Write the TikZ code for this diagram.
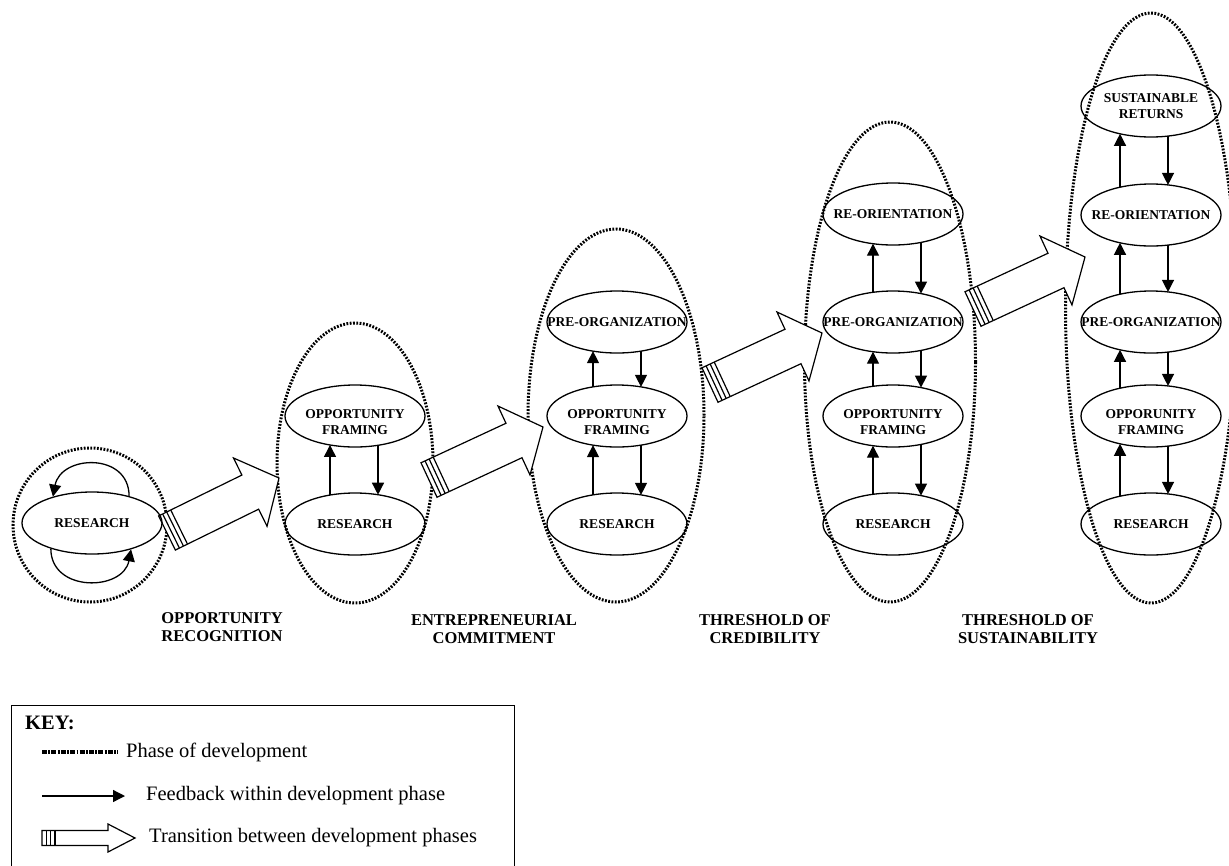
\documentclass[tikz,border=0pt]{standalone}
\usepackage{fontspec}
\setmainfont{Liberation Serif}
\usetikzlibrary{shapes.geometric,arrows.meta,calc}
\tikzset{
  phase/.style={ellipse, draw, line width=3pt, dash pattern=on 1.8pt off 1.5pt, inner sep=0pt},
  stage/.style={ellipse, draw, line width=1.3pt, minimum width=140pt, minimum height=62pt, inner sep=0pt},
  stagetext/.style={font=\fontsize{13.5}{16}\selectfont\bfseries, align=center, inner sep=0pt},
  fb/.style={line width=1.3pt, -{Triangle[length=12pt,width=12pt]}},
  tarrow/.style={draw, fill=white, line width=1.2pt, line join=miter},
  milestone/.style={font=\fontsize{16.5}{18}\selectfont\bfseries, align=center, inner sep=0pt},
  keytext/.style={font=\fontsize{20.5}{24}\selectfont, anchor=west, inner sep=0pt},
  phaseline/.style={line width=3.5pt, dash pattern=on 5pt off 1.3pt on 1.8pt off 1.3pt},
}
% transition arrow: #1 tail, #2 tip, #3 shaft half width, #4 head half width, #5 head length, #6 stripe spacing
\newcommand\transarrow[6]{%
  \path let \p1=($(#2)-(#1)$) in \pgfextra{%
    \pgfmathsetmacro\tmpAng{atan2(\y1,\x1)}\global\let\tAng\tmpAng
    \pgfmathsetmacro\tmpLen{veclen(\x1,\y1)}\global\let\tLen\tmpLen};
  \begin{scope}[shift={(#1)}, rotate=\tAng]
    \pgfmathsetmacro\tB{\tLen-#5}
    \draw[tarrow] (0,-#3) -- (\tB,-#3) -- (\tB,-#4) -- (\tLen,0) -- (\tB,#4) -- (\tB,#3) -- (0,#3) -- cycle;
    \foreach \s in {1,2,3} \draw[tarrow] (\s*#6,-#3) -- (\s*#6,#3);
  \end{scope}}
% feedback pair: #1 lower node, #2 upper node, #3 x offset of the up arrow
\newcommand\fbpair[3]{%
  \pgfmathsetmacro\ya{31*sqrt(1-((#3)/70)^2)}%
  \pgfmathsetmacro\yb{31*sqrt(1-((#3+48)/70)^2)}%
  \draw[fb] ($(#1.center)+(#3,-\ya)$) -- ($(#2.center)+(#3,\ya)$);
  \draw[fb] ($(#2.center)+(#3+48,\yb)$) -- ($(#1.center)+(#3+48,-\yb)$);}
\begin{document}
\begin{tikzpicture}[x=1pt,y=-1pt]
\useasboundingbox (0,0) rectangle (1229,865);

% phases of development
\node[phase, minimum width=154pt, minimum height=154pt] (p1) at (90,525) {};
\node[phase, minimum width=156pt, minimum height=280pt] (p2) at (355,463) {};
\node[phase, minimum width=176pt, minimum height=373pt] (p3) at (616,415.5) {};
\node[phase, minimum width=171pt, minimum height=480pt] (p4) at (890,362) {};
\node[phase, minimum width=171pt, minimum height=590pt] (p5) at (1151,308) {};

% transitions between phases
\coordinate (t1s) at ($(p1.center)+(77,8)$);
\coordinate (t1e) at ($(p2.center)+(-76,15)$);
\coordinate (t2s) at ($(p2.center)+(74,17)$);
\coordinate (t2e) at ($(p3.center)+(-73,11.5)$);
\coordinate (t3s) at ($(p3.center)+(94,-30.5)$);
\coordinate (t3e) at ($(p4.center)+(-68,-29)$);
\coordinate (t4s) at ($(p4.center)+(83,-53)$);
\coordinate (t4e) at ($(p5.center)+(-66,-51)$);
\transarrow{t1s}{t1e}{19}{38}{32}{4.5}
\transarrow{t2s}{t2e}{19}{38}{32}{4.5}
\transarrow{t3s}{t3e}{19}{38}{32}{4.5}
\transarrow{t4s}{t4e}{19}{38}{32}{4.5}

% stages
\node[stage, label={[stagetext]center:RESEARCH}] (R1) at (92,523) {};

\node[stage, label={[stagetext, yshift=-6pt]center:{OPPORTUNITY\\FRAMING}}] (OF2) at (355,416) {};
\node[stage, label={[stagetext]center:RESEARCH}] (R2) at (355,524) {};

\node[stage, label={[stagetext]center:PRE-ORGANIZATION}] (PO3) at (617,322) {};
\node[stage, label={[stagetext, yshift=-6pt]center:{OPPORTUNITY\\FRAMING}}] (OF3) at (617,416) {};
\node[stage, label={[stagetext]center:RESEARCH}] (R3) at (617,524) {};

\node[stage, label={[stagetext]center:RE-ORIENTATION}] (RO4) at (893,214) {};
\node[stage, label={[stagetext]center:PRE-ORGANIZATION}] (PO4) at (893,322) {};
\node[stage, label={[stagetext, yshift=-6pt]center:{OPPORTUNITY\\FRAMING}}] (OF4) at (893,416) {};
\node[stage, label={[stagetext]center:RESEARCH}] (R4) at (893,524) {};

\node[stage, label={[stagetext]center:{SUSTAINABLE\\RETURNS}}] (SR5) at (1151,106) {};
\node[stage, label={[stagetext]center:RE-ORIENTATION}] (RO5) at (1151,215) {};
\node[stage, label={[stagetext]center:PRE-ORGANIZATION}] (PO5) at (1151,322) {};
\node[stage, label={[stagetext, yshift=-6pt]center:{OPPORUNITY\\FRAMING}}] (OF5) at (1151,416) {};
\node[stage, label={[stagetext]center:RESEARCH}] (R5) at (1151,524) {};

% feedback within phases
\draw[fb] (R1.36) .. controls ($(R1.36)+(0,-44)$) and ($(R1.146)+(8,-42)$) .. (R1.146);
\draw[fb] (R1.212) .. controls ($(R1.212)+(0,44)$) and ($(R1.326)+(-8,42)$) .. (R1.326);
\fbpair{R2}{OF2}{-25}
\fbpair{R3}{OF3}{-24}
\fbpair{OF3}{PO3}{-24}
\fbpair{R4}{OF4}{-20}
\fbpair{OF4}{PO4}{-20}
\fbpair{PO4}{RO4}{-20}
\fbpair{R5}{OF5}{-31}
\fbpair{OF5}{PO5}{-31}
\fbpair{PO5}{RO5}{-31}
\fbpair{RO5}{SR5}{-31}

% milestones
\node[milestone] (m1) at (222,627) {OPPORTUNITY\\RECOGNITION};
\node[milestone] (m2) at (494,629) {ENTREPRENEURIAL\\COMMITMENT};
\node[milestone] (m3) at (765,629) {THRESHOLD OF\\CREDIBILITY};
\node[milestone] (m4) at (1028,629) {THRESHOLD OF\\SUSTAINABILITY};

% key
\draw[line width=1pt] (11,705) rectangle (514,885);
\node[keytext, font=\fontsize{20.5}{24}\selectfont\bfseries] (keyt) at (25,723) {KEY:};
\coordinate (k1a) at (42,752); \coordinate (k1b) at (118,752);
\draw[phaseline] (k1a) -- (k1b);
\node[keytext] (k1t) at (126,752) {Phase of development};
\coordinate (k2a) at (42,796); \coordinate (k2b) at (125,796);
\draw[fb] (k2a) -- (k2b);
\node[keytext] (k2t) at (146,796) {Feedback within development phase};
\coordinate (k3a) at (42,838); \coordinate (k3b) at (135,838);
\transarrow{k3a}{k3b}{7.5}{14}{27}{4.3}
\node[keytext] (k3t) at (149,838) {Transition between development phases};
\end{tikzpicture}
\end{document}
